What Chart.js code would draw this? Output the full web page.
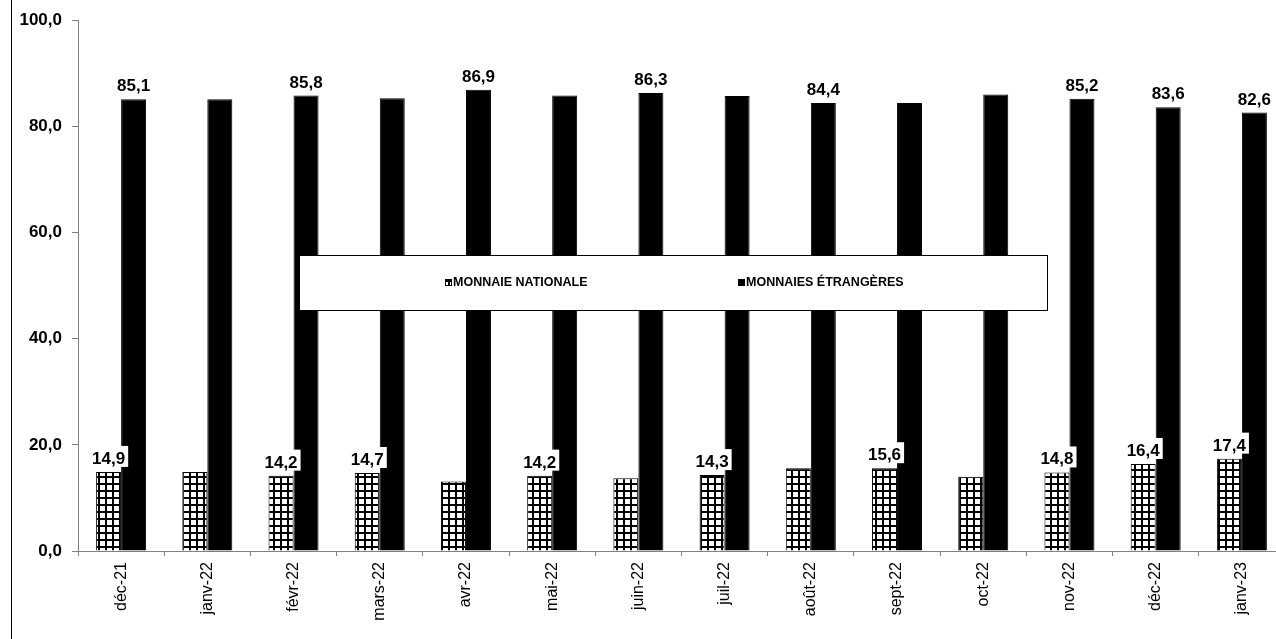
<!DOCTYPE html>
<html>
<head>
<meta charset="utf-8">
<script src="https://cdn.jsdelivr.net/npm/chart.js@4"></script>
<style>
    html, body { margin: 0; padding: 0; background: #fff; overflow: hidden; }
    #wrap { position: relative; width: 1285px; height: 639px; }
    #frameLine { position: absolute; left: 11px; top: 0; width: 1px; height: 639px; background: #000; }
    canvas { position: absolute; left: 0; top: 0; }
</style>
</head>
<body>
<div id="wrap">
    <canvas id="depositsChart" width="1285" height="639"></canvas>
    <div id="frameLine"></div>
</div>
<script>
// months shown on the x axis
let months = ["déc-21", "janv-22", "févr-22", "mars-22", "avr-22", "mai-22", "juin-22",
    "juil-22", "août-22", "sept-22", "oct-22", "nov-22", "déc-22", "janv-23"];

// share of deposits (en %)
let nationale = [14.9, 14.9, 14.2, 14.7, 13.1, 14.2, 13.7, 14.3, 15.6, 15.6, 14.0, 14.8, 16.4, 17.4];
let etrangeres = [85.1, 85.1, 85.8, 85.3, 86.9, 85.8, 86.3, 85.7, 84.4, 84.4, 86.0, 85.2, 83.6, 82.6];

// which bars carry a value label in the original
let showNationale = [true, false, true, true, false, true, false, true, false, true, false, true, true, true];
let showEtrangeres = [true, false, true, false, true, false, true, false, true, false, false, true, true, true];

let yTicks = [0, 20, 40, 60, 80, 100];

const FONT = "'Liberation Sans', Arial, sans-serif";

function gridPattern() {
    let c = document.createElement("canvas");
    c.width = 7;
    c.height = 7;
    let g = c.getContext("2d");
    g.fillStyle = "#fff";
    g.fillRect(0, 0, 7, 7);
    g.fillStyle = "#000";
    g.fillRect(0, 0, 7, 2);
    g.fillRect(0, 0, 2, 7);
    return g.createPattern(c, "repeat");
}

function fmt(v) {
    return v.toFixed(1).replace(".", ",");
}

let ctx = document.getElementById("depositsChart").getContext("2d");
let hatch = gridPattern();

// value labels on a white box above the bars
const valueLabels = {
    id: "valueLabels",
    afterDatasetsDraw(chart) {
        let c = chart.ctx;
        let flags = [showNationale, showEtrangeres];
        c.save();
        c.font = "bold 17px " + FONT;
        c.textAlign = "center";
        c.textBaseline = "alphabetic";
        chart.data.datasets.forEach((ds, di) => {
            let meta = chart.getDatasetMeta(di);
            meta.data.forEach((bar, i) => {
                if (!flags[di][i]) return;
                let txt = fmt(ds.data[i]);
                let w = c.measureText(txt).width;
                let top = bar.y;
                c.fillStyle = "#fff";
                c.fillRect(bar.x - w / 2 - 3, top - 26, w + 6, 21);
                c.fillStyle = "#000";
                c.fillText(txt, bar.x, top - 8);
            });
        });
        c.restore();
    }
};

// legend box drawn over the plot
const boxLegend = {
    id: "boxLegend",
    afterDraw(chart) {
        let c = chart.ctx;
        let ds = chart.data.datasets;
        c.save();
        c.fillStyle = "#fff";
        c.fillRect(299, 255, 749, 56);
        c.strokeStyle = "#000";
        c.lineWidth = 1;
        c.strokeRect(299.5, 255.5, 748, 55);
        c.font = "bold 12.5px " + FONT;
        c.textBaseline = "middle";
        c.textAlign = "left";
        let items = [{ x: 445, fill: hatch }, { x: 738, fill: "#000" }];
        items.forEach((it, k) => {
            c.fillStyle = it.fill;
            c.fillRect(it.x, 279, 7, 7);
            c.strokeStyle = "#000";
            c.strokeRect(it.x + 0.5, 279.5, 6, 6);
            c.fillStyle = "#000";
            c.fillText(ds[k].label, it.x + 8, 283);
        });
        c.restore();
    }
};

new Chart(ctx, {
    type: "bar",
    data: {
        labels: months,
        datasets: [
            {
                label: "MONNAIE NATIONALE",
                data: nationale,
                backgroundColor: hatch,
                borderColor: "#000",
                borderWidth: 1,
                barPercentage: 1,
                categoryPercentage: 0.58
            },
            {
                label: "MONNAIES ÉTRANGÈRES",
                data: etrangeres,
                backgroundColor: "#000",
                borderColor: "#000",
                borderWidth: 1,
                barPercentage: 1,
                categoryPercentage: 0.58
            }
        ]
    },
    options: {
        responsive: false,
        animation: false,
        layout: { padding: { top: 19, left: 0, right: 0, bottom: 0 } },
        plugins: {
            legend: { display: false },
            tooltip: { enabled: false }
        },
        scales: {
            x: {
                grid: {
                    drawOnChartArea: false,
                    color: "#808080",
                    tickLength: 5,
                    offset: true
                },
                border: { color: "#808080", width: 1 },
                ticks: {
                    minRotation: 90,
                    maxRotation: 90,
                    padding: 6,
                    color: "#000",
                    font: { family: FONT, size: 16 }
                },
                afterFit(scale) { scale.height = 88; }
            },
            y: {
                min: 0,
                max: 100,
                grid: {
                    drawOnChartArea: false,
                    color: "#808080",
                    tickLength: 6
                },
                border: { color: "#808080", width: 1 },
                afterBuildTicks(scale) {
                    scale.ticks = yTicks.map(v => ({ value: v }));
                },
                ticks: {
                    padding: 10,
                    color: "#000",
                    font: { family: FONT, size: 17, weight: "bold" },
                    callback: v => fmt(v)
                },
                afterFit(scale) { scale.width = 78; }
            }
        }
    },
    plugins: [valueLabels, boxLegend]
});
</script>
</body>
</html>
